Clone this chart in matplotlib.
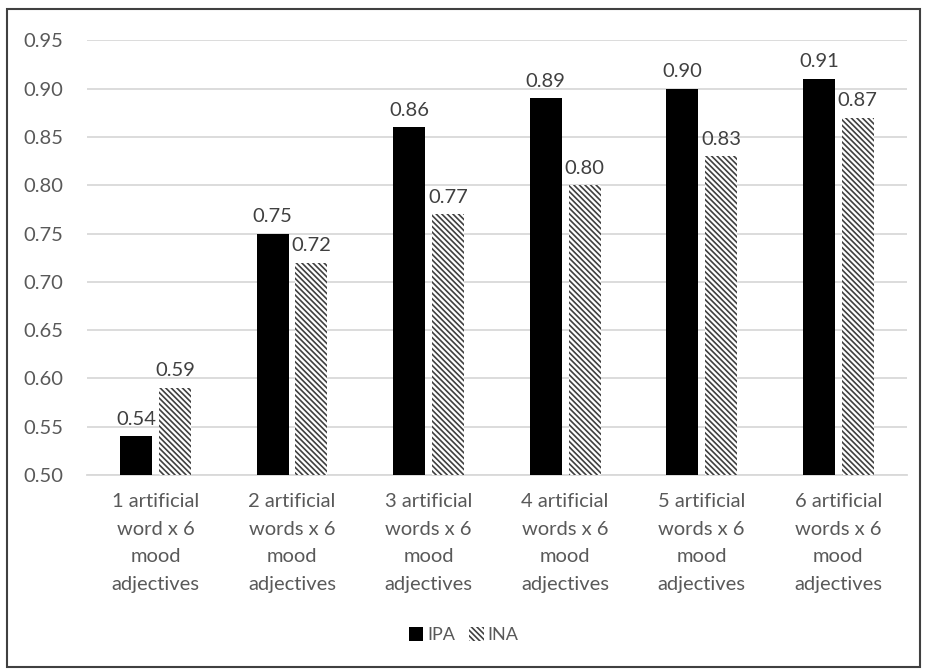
import numpy as np
import matplotlib.pyplot as plt
from matplotlib.patches import Rectangle

plt.rcParams['font.family'] = ['Lato', 'DejaVu Sans']
plt.rcParams['hatch.color'] = '#404040'
plt.rcParams['hatch.linewidth'] = 1.2

# data
categories = ['1 artificial\nword x 6\nmood\nadjectives',
              '2 artificial\nwords x 6\nmood\nadjectives',
              '3 artificial\nwords x 6\nmood\nadjectives',
              '4 artificial\nwords x 6\nmood\nadjectives',
              '5 artificial\nwords x 6\nmood\nadjectives',
              '6 artificial\nwords x 6\nmood\nadjectives']
ipa = [0.54, 0.75, 0.86, 0.89, 0.90, 0.91]
ina = [0.59, 0.72, 0.77, 0.80, 0.83, 0.87]
yticks = [0.50, 0.55, 0.60, 0.65, 0.70, 0.75, 0.80, 0.85, 0.90, 0.95]

txt = '#595959'

fig = plt.figure(figsize=(9.27, 6.72), dpi=100)
ax = fig.add_axes([0.094, 0.293, 0.884, 0.647])

x = np.arange(len(categories))
w = 0.234
off = 0.142
b1 = ax.bar(x - off, ipa, w, color='black', label='IPA', zorder=3)
b2 = ax.bar(x + off, ina, w, color='white', edgecolor='#404040', linewidth=0,
            hatch='\\\\\\\\\\\\', label='INA', zorder=3)

for xi, v in zip(x, ipa):
    ax.text(xi - off, v + 0.009, f'{v:.2f}', ha='center', va='bottom',
            fontsize=14.5, color='#404040')
for xi, v in zip(x, ina):
    ax.text(xi + off, v + 0.009, f'{v:.2f}', ha='center', va='bottom',
            fontsize=14.5, color='#404040')

ax.set_ylim(0.50, 0.95)
ax.set_xlim(-0.5, len(categories) - 0.5)
ax.set_yticks(yticks)
ax.set_yticklabels([f'{t:.2f}' for t in yticks])
ax.set_xticks(x)
ax.set_xticklabels(categories, linespacing=1.75, fontsize=15.5)
ax.tick_params(axis='both', length=0, labelsize=14.5, labelcolor=txt)
ax.tick_params(axis='y', pad=17)
ax.tick_params(axis='x', pad=13)
ax.grid(axis='y', color='#d9d9d9', linewidth=1.3, zorder=0)
for s in ['top', 'right', 'left']:
    ax.spines[s].set_visible(False)
ax.spines['bottom'].set_color('#d9d9d9')
ax.spines['bottom'].set_linewidth(1.3)

fig.legend(handles=[b1, b2], labels=['IPA', 'INA'], loc='center',
           bbox_to_anchor=(0.5, 0.055), ncol=2, frameon=False, fontsize=13,
           labelcolor=txt, handlelength=0.8, handleheight=0.8,
           handletextpad=0.2, columnspacing=0.8)

fig.patches.append(Rectangle((0.008, 0.008), 0.984, 0.978, transform=fig.transFigure,
                             fill=False, edgecolor='#404040', linewidth=1.5))

fig.savefig('out.png', dpi=100)
